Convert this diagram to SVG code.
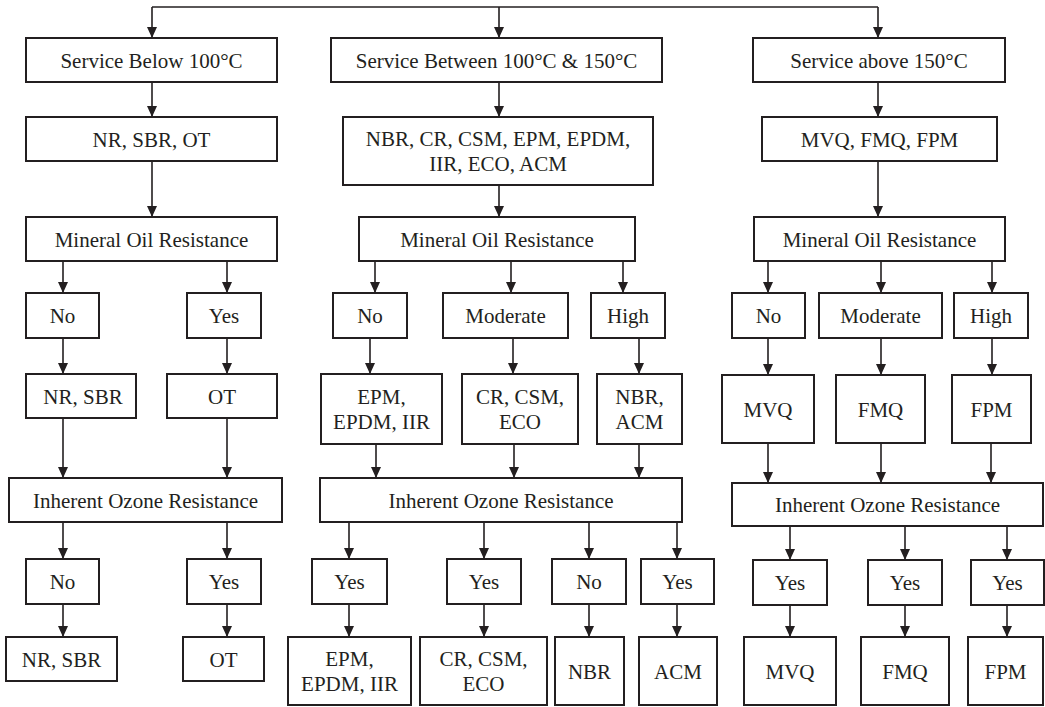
<svg xmlns="http://www.w3.org/2000/svg" width="1045" height="707" viewBox="0 0 1045 707">
  <style>
    .box { fill: #ffffff; stroke: #231f20; stroke-width: 2; }
    .lbl { font-family: "Liberation Serif", "Times New Roman", serif; font-size: 21px; fill: #231f20; text-anchor: middle; }
    .wire { fill: none; stroke: #231f20; stroke-width: 1.6; }
    .arr { fill: none; stroke: #231f20; stroke-width: 1.6; marker-end: url(#head); }
  </style>
  <defs>
    <marker id="head" viewBox="0 0 11 10" refX="11" refY="5" markerWidth="11" markerHeight="10" markerUnits="userSpaceOnUse" orient="auto">
      <path d="M0,0 L11,5 L0,10 z" fill="#231f20"/>
    </marker>
  </defs>
  <rect width="1045" height="707" fill="#ffffff"/>

  <!-- connectors -->
  <g id="connectors">
    <path class="wire" d="M152,7 H878"/>
    <path class="arr" d="M152,7 V38"/>
    <path class="arr" d="M499,7 V38"/>
    <path class="arr" d="M878,7 V38"/>

    <!-- column: below 100 C -->
    <path class="arr" d="M152,82 V117"/>
    <path class="arr" d="M152,161 V217"/>
    <path class="arr" d="M63,261 V293"/>
    <path class="arr" d="M227,261 V293"/>
    <path class="arr" d="M63,338 V374"/>
    <path class="arr" d="M227,338 V374"/>
    <path class="arr" d="M63,418 V478"/>
    <path class="arr" d="M227,418 V478"/>
    <path class="arr" d="M63,522 V559"/>
    <path class="arr" d="M227,522 V559"/>
    <path class="arr" d="M63,604 V637"/>
    <path class="arr" d="M227,604 V637"/>

    <!-- column: 100 C to 150 C -->
    <path class="arr" d="M499,82 V117"/>
    <path class="arr" d="M499,185 V217"/>
    <path class="arr" d="M375,261 V293"/>
    <path class="arr" d="M511,261 V293"/>
    <path class="arr" d="M623,261 V293"/>
    <path class="arr" d="M370,338 V374"/>
    <path class="arr" d="M513,338 V374"/>
    <path class="arr" d="M639,338 V374"/>
    <path class="arr" d="M376,444 V478"/>
    <path class="arr" d="M514,444 V478"/>
    <path class="arr" d="M639,444 V478"/>
    <path class="arr" d="M349,522 V559"/>
    <path class="arr" d="M484,522 V559"/>
    <path class="arr" d="M589,522 V559"/>
    <path class="arr" d="M677,522 V559"/>
    <path class="arr" d="M349,604 V637"/>
    <path class="arr" d="M484,604 V637"/>
    <path class="arr" d="M589,604 V637"/>
    <path class="arr" d="M677,604 V637"/>

    <!-- column: above 150 C -->
    <path class="arr" d="M878,82 V117"/>
    <path class="arr" d="M878,161 V217"/>
    <path class="arr" d="M768,261 V293"/>
    <path class="arr" d="M881,261 V293"/>
    <path class="arr" d="M992,261 V293"/>
    <path class="arr" d="M768,338 V375"/>
    <path class="arr" d="M881,338 V375"/>
    <path class="arr" d="M992,338 V375"/>
    <path class="arr" d="M768,443 V483"/>
    <path class="arr" d="M881,443 V483"/>
    <path class="arr" d="M991,443 V483"/>
    <path class="arr" d="M790,526 V560"/>
    <path class="arr" d="M905,526 V560"/>
    <path class="arr" d="M1007,526 V560"/>
    <path class="arr" d="M790,605 V637"/>
    <path class="arr" d="M905,605 V637"/>
    <path class="arr" d="M1007,605 V637"/>
  </g>

  <!-- column: below 100 C -->
  <g id="svc-below-100"><rect class="box" x="26" y="38" width="251" height="44"/><text class="lbl" x="151.5" y="67.5">Service Below 100°C</text></g>
  <g id="grp-nr-sbr-ot"><rect class="box" x="26" y="117" width="251" height="44"/><text class="lbl" x="151.5" y="146.5">NR, SBR, OT</text></g>
  <g id="oil-1"><rect class="box" x="26" y="217" width="251" height="44"/><text class="lbl" x="151.5" y="246.5">Mineral Oil Resistance</text></g>
  <g id="oil-1-no"><rect class="box" x="26" y="293" width="73" height="45"/><text class="lbl" x="62.5" y="323">No</text></g>
  <g id="oil-1-yes"><rect class="box" x="187" y="293" width="74" height="45"/><text class="lbl" x="224" y="323">Yes</text></g>
  <g id="mid-nr-sbr"><rect class="box" x="26" y="374" width="110" height="44"/><text class="lbl" x="83" y="403.5">NR, SBR</text></g>
  <g id="mid-ot"><rect class="box" x="167" y="374" width="110" height="44"/><text class="lbl" x="222" y="403.5">OT</text></g>
  <g id="ozone-1"><rect class="box" x="9" y="478" width="273" height="44"/><text class="lbl" x="145.5" y="507.5">Inherent Ozone Resistance</text></g>
  <g id="ozone-1-no"><rect class="box" x="26" y="559" width="73" height="45"/><text class="lbl" x="62.5" y="589">No</text></g>
  <g id="ozone-1-yes"><rect class="box" x="187" y="559" width="74" height="45"/><text class="lbl" x="224" y="589">Yes</text></g>
  <g id="end-nr-sbr"><rect class="box" x="6" y="637" width="111" height="44"/><text class="lbl" x="61.5" y="666.5">NR, SBR</text></g>
  <g id="end-ot"><rect class="box" x="183" y="637" width="81" height="44"/><text class="lbl" x="223.5" y="666.5">OT</text></g>

  <!-- column: 100 C to 150 C -->
  <g id="svc-100-150"><rect class="box" x="331" y="38" width="331" height="44"/><text class="lbl" x="496.5" y="67.5">Service Between 100°C &amp; 150°C</text></g>
  <g id="grp-mid-polymers"><rect class="box" x="343" y="117" width="310" height="68"/><text class="lbl" x="498" y="146">NBR, CR, CSM, EPM, EPDM,</text><text class="lbl" x="498" y="171">IIR, ECO, ACM</text></g>
  <g id="oil-2"><rect class="box" x="359" y="217" width="276" height="44"/><text class="lbl" x="497" y="246.5">Mineral Oil Resistance</text></g>
  <g id="oil-2-no"><rect class="box" x="333" y="293" width="74" height="45"/><text class="lbl" x="370" y="323">No</text></g>
  <g id="oil-2-moderate"><rect class="box" x="443" y="293" width="125" height="45"/><text class="lbl" x="505.5" y="323">Moderate</text></g>
  <g id="oil-2-high"><rect class="box" x="591" y="293" width="74" height="45"/><text class="lbl" x="628" y="323">High</text></g>
  <g id="mid-epm"><rect class="box" x="321" y="374" width="121" height="70"/><text class="lbl" x="381.5" y="404">EPM,</text><text class="lbl" x="381.5" y="429">EPDM, IIR</text></g>
  <g id="mid-cr"><rect class="box" x="462" y="374" width="116" height="70"/><text class="lbl" x="520" y="404">CR, CSM,</text><text class="lbl" x="520" y="429">ECO</text></g>
  <g id="mid-nbr"><rect class="box" x="597" y="374" width="85" height="70"/><text class="lbl" x="639.5" y="404">NBR,</text><text class="lbl" x="639.5" y="429">ACM</text></g>
  <g id="ozone-2"><rect class="box" x="320" y="478" width="362" height="44"/><text class="lbl" x="501" y="507.5">Inherent Ozone Resistance</text></g>
  <g id="ozone-2-yes-a"><rect class="box" x="312" y="559" width="75" height="45"/><text class="lbl" x="349.5" y="589">Yes</text></g>
  <g id="ozone-2-yes-b"><rect class="box" x="447" y="559" width="74" height="45"/><text class="lbl" x="484" y="589">Yes</text></g>
  <g id="ozone-2-no"><rect class="box" x="552" y="559" width="74" height="45"/><text class="lbl" x="589" y="589">No</text></g>
  <g id="ozone-2-yes-c"><rect class="box" x="641" y="559" width="73" height="45"/><text class="lbl" x="677.5" y="589">Yes</text></g>
  <g id="end-epm"><rect class="box" x="288" y="637" width="123" height="68"/><text class="lbl" x="349.5" y="666">EPM,</text><text class="lbl" x="349.5" y="691">EPDM, IIR</text></g>
  <g id="end-cr"><rect class="box" x="420" y="637" width="127" height="68"/><text class="lbl" x="483.5" y="666">CR, CSM,</text><text class="lbl" x="483.5" y="691">ECO</text></g>
  <g id="end-nbr"><rect class="box" x="555" y="637" width="69" height="68"/><text class="lbl" x="589.5" y="678.5">NBR</text></g>
  <g id="end-acm"><rect class="box" x="639" y="637" width="78" height="68"/><text class="lbl" x="678" y="678.5">ACM</text></g>

  <!-- column: above 150 C -->
  <g id="svc-above-150"><rect class="box" x="753" y="38" width="252" height="44"/><text class="lbl" x="879" y="67.5">Service above 150°C</text></g>
  <g id="grp-high-polymers"><rect class="box" x="762" y="117" width="235" height="44"/><text class="lbl" x="879.5" y="146.5">MVQ, FMQ, FPM</text></g>
  <g id="oil-3"><rect class="box" x="754" y="217" width="251" height="44"/><text class="lbl" x="879.5" y="246.5">Mineral Oil Resistance</text></g>
  <g id="oil-3-no"><rect class="box" x="732" y="293" width="73" height="45"/><text class="lbl" x="768.5" y="323">No</text></g>
  <g id="oil-3-moderate"><rect class="box" x="819" y="293" width="123" height="45"/><text class="lbl" x="880.5" y="323">Moderate</text></g>
  <g id="oil-3-high"><rect class="box" x="954" y="293" width="74" height="45"/><text class="lbl" x="991" y="323">High</text></g>
  <g id="mid-mvq"><rect class="box" x="722" y="375" width="92" height="68"/><text class="lbl" x="768" y="416.5">MVQ</text></g>
  <g id="mid-fmq"><rect class="box" x="836" y="375" width="89" height="68"/><text class="lbl" x="880.5" y="416.5">FMQ</text></g>
  <g id="mid-fpm"><rect class="box" x="952" y="375" width="79" height="68"/><text class="lbl" x="991.5" y="416.5">FPM</text></g>
  <g id="ozone-3"><rect class="box" x="732" y="483" width="311" height="43"/><text class="lbl" x="887.5" y="512">Inherent Ozone Resistance</text></g>
  <g id="ozone-3-yes-a"><rect class="box" x="753" y="560" width="74" height="45"/><text class="lbl" x="790" y="590">Yes</text></g>
  <g id="ozone-3-yes-b"><rect class="box" x="868" y="560" width="74" height="45"/><text class="lbl" x="905" y="590">Yes</text></g>
  <g id="ozone-3-yes-c"><rect class="box" x="971" y="560" width="73" height="45"/><text class="lbl" x="1007.5" y="590">Yes</text></g>
  <g id="end-mvq"><rect class="box" x="744" y="637" width="92" height="68"/><text class="lbl" x="790" y="678.5">MVQ</text></g>
  <g id="end-fmq"><rect class="box" x="861" y="637" width="88" height="68"/><text class="lbl" x="905" y="678.5">FMQ</text></g>
  <g id="end-fpm"><rect class="box" x="968" y="637" width="75" height="68"/><text class="lbl" x="1005.5" y="678.5">FPM</text></g>
</svg>
